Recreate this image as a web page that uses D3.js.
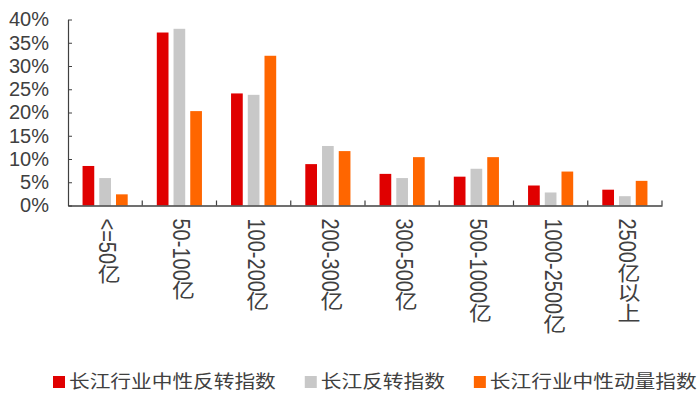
<!DOCTYPE html>
<html>
<head>
<meta charset="utf-8">
<script src="https://cdn.jsdelivr.net/npm/d3@7"></script>
<style>
  body { margin: 0; background: #fff; }
  text { font-family: "Liberation Sans", Arial, "Noto Sans CJK SC", sans-serif; fill: #404040; }
</style>
</head>
<body>
<div id="chart"></div>
<script>
// 市值分组
const categories = ['<=50亿', '50-100亿', '100-200亿', '200-300亿', '300-500亿', '500-1000亿', '1000-2500亿', '2500亿以上'];
const seriesNames = ['长江行业中性反转指数', '长江反转指数', '长江行业中性动量指数'];
const seriesColors = ['#e00000', '#c8c8c8', '#ff6600'];

// 各组占比
const industryReversal = [0.085, 0.372, 0.241, 0.089, 0.068, 0.062, 0.043, 0.034];
const reversal = [0.059, 0.380, 0.238, 0.128, 0.059, 0.079, 0.028, 0.020];
const industryMomentum = [0.024, 0.203, 0.322, 0.117, 0.104, 0.104, 0.073, 0.053];
const yTicks = [0, 0.05, 0.10, 0.15, 0.20, 0.25, 0.30, 0.35, 0.40];

const seriesValues = [industryReversal, reversal, industryMomentum];

const W = 699, H = 399;
const margin = { top: 19.5, right: 37, bottom: 193.5, left: 68 };
const width = W - margin.left - margin.right;
const height = H - margin.top - margin.bottom;

const svg = d3.select('#chart')
  .append('svg')
  .attr('width', W)
  .attr('height', H);

const g = svg.append('g')
  .attr('transform', `translate(${margin.left},${margin.top})`);

// Scales
const x0 = d3.scaleBand()
  .domain(categories)
  .range([0, width])
  .padding(0);

const x1 = d3.scaleBand()
  .domain(d3.range(seriesNames.length))
  .range([0, x0.bandwidth()])
  .paddingInner(0.3)
  .paddingOuter(0.87);

const y = d3.scaleLinear()
  .domain([0, 0.4])
  .range([height, 0]);

// Bars
const groups = g.selectAll('.group')
  .data(categories)
  .enter()
  .append('g')
  .attr('transform', d => `translate(${x0(d)},0)`);

groups.selectAll('rect')
  .data((d, i) => seriesValues.map((s, k) => ({ k, v: s[i] })))
  .enter()
  .append('rect')
  .attr('x', d => x1(d.k))
  .attr('y', d => y(d.v))
  .attr('width', x1.bandwidth())
  .attr('height', d => height - y(d.v))
  .attr('fill', d => seriesColors[d.k]);

// Y axis
const yAxis = g.append('g')
  .call(d3.axisLeft(y)
    .tickValues(yTicks)
    .tickFormat(d3.format('.0%'))
    .tickSizeInner(-4)
    .tickSizeOuter(0)
    .tickPadding(19));
yAxis.select('.domain').attr('stroke', '#404040').attr('stroke-width', 1.2);
yAxis.selectAll('.tick line').attr('stroke', '#404040');
yAxis.selectAll('.tick text')
  .attr('font-size', '20px')
  .attr('fill', '#404040')
  .attr('font-family', '"Liberation Sans", Arial, sans-serif');

// X axis
const xAxis = g.append('g')
  .attr('transform', `translate(0,${height})`)
  .call(d3.axisBottom(x0).tickSize(0).tickFormat(''));
xAxis.select('.domain').attr('stroke', '#404040').attr('stroke-width', 1.5);

// category boundary ticks (pointing up)
const bounds = categories.map(c => x0(c)).concat([width]);
xAxis.selectAll('.bound')
  .data(bounds.slice(1))
  .enter()
  .append('line')
  .attr('x1', d => d)
  .attr('x2', d => d)
  .attr('y1', 0)
  .attr('y2', -5)
  .attr('stroke', '#404040')
  .attr('stroke-width', 1.2);

// vertical category labels (Latin rotated, CJK upright)
xAxis.selectAll('.xlabel')
  .data(categories)
  .enter()
  .append('text')
  .attr('transform', d => `translate(${x0(d) + x0.bandwidth() / 2 + 2},13) scale(1.15,1)`)
  .style('writing-mode', 'vertical-rl')
  .style('text-orientation', 'mixed')
  .attr('text-anchor', 'start')
  .attr('font-size', '20px')
  .text(d => d);

// Legend
const legend = svg.append('g')
  .attr('transform', 'translate(0,382)');

const items = legend.selectAll('.item')
  .data(seriesNames)
  .enter()
  .append('g');

items.append('rect')
  .attr('width', 12)
  .attr('height', 12)
  .attr('y', -6)
  .attr('fill', (d, i) => seriesColors[i]);

items.append('text')
  .attr('transform', 'translate(16,0) scale(1.15,1)')
  .attr('dy', '0.36em')
  .attr('font-size', '18px')
  .text(d => d);

let pos = 53;
items.each(function () {
  const t = d3.select(this).select('text').node().getComputedTextLength() * 1.15;
  d3.select(this).attr('transform', `translate(${pos},0)`);
  pos += 16 + t + 29;
});
</script>
</body>
</html>
